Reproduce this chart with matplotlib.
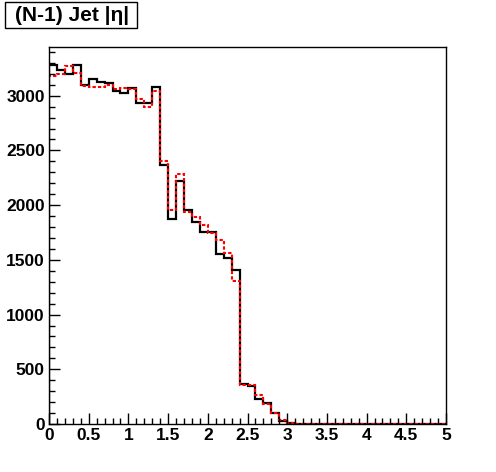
import numpy as np
import matplotlib
matplotlib.use("Agg")
import matplotlib.pyplot as plt
from matplotlib.ticker import MultipleLocator
from matplotlib.patches import Rectangle

# bin edges: 50 bins of 0.1 from 0 to 5
edges = np.linspace(0, 5, 51)

# black solid histogram
black_vals = [3278, 3235, 3199, 3284, 3099, 3153, 3129, 3120, 3047, 3028,
              3068, 2931, 2931, 3083, 2369, 1870, 2225, 1952, 1849, 1757,
              1751, 1550, 1514, 1404, 364, 346, 224, 194, 97, 27,
              8, 2, 1, 1, 0, 0, 0, 0, 0, 0,
              0, 0, 0, 0, 0, 0, 0, 0, 0, 0]

# red dashed histogram
red_vals = [3180, 3200, 3275, 3211, 3090, 3077, 3083, 3095, 3059, 3071,
            3065, 2973, 2900, 3047, 2399, 1952, 2287, 1933, 1888, 1815,
            1745, 1678, 1563, 1310, 355, 355, 264, 179, 103, 33,
            12, 3, 2, 1, 1, 0, 0, 0, 0, 0,
            0, 0, 0, 0, 0, 0, 0, 0, 0, 0]

title = "(N-1) Jet |η|"

plt.rcParams['font.family'] = ['Liberation Sans', 'DejaVu Sans']

W, H = 496, 472
fig = plt.figure(figsize=(W / 100, H / 100), dpi=100)
ax = fig.add_axes([49 / W, (H - 424) / H, (446 - 49) / W, (424 - 47) / H])

ax.stairs(black_vals, edges, color='black', linewidth=1.6)
ax.stairs(red_vals, edges, color='red', linewidth=1.5, linestyle=(0, (1.6, 1)))

ax.set_xlim(0, 5)
ax.set_ylim(0, 3445)

ax.xaxis.set_major_locator(MultipleLocator(0.5))
ax.xaxis.set_minor_locator(MultipleLocator(0.1))
ax.yaxis.set_major_locator(MultipleLocator(500))
ax.yaxis.set_minor_locator(MultipleLocator(100))
ax.xaxis.set_major_formatter(plt.FuncFormatter(lambda v, p: f"{v:g}"))

ax.tick_params(which='both', direction='in', top=False, right=False)
ax.tick_params(which='major', length=8, width=1)
ax.tick_params(which='minor', length=4, width=1)
ax.tick_params(axis='x', pad=3)
ax.tick_params(axis='y', pad=3)
for lab in ax.get_xticklabels() + ax.get_yticklabels():
    lab.set_fontweight('bold')
    lab.set_fontsize(12.5)

for s in ax.spines.values():
    s.set_linewidth(1)

# title box, ROOT style
fig.patches.append(Rectangle((5 / W, 1 - 28 / H), 132 / W, 26 / H,
                             transform=fig.transFigure, facecolor='white',
                             edgecolor='black', linewidth=1))
fig.text(72 / W, 1 - 15.5 / H, title, fontsize=15, fontweight='bold',
         ha='center', va='center')

fig.savefig("out.png", dpi=100)
